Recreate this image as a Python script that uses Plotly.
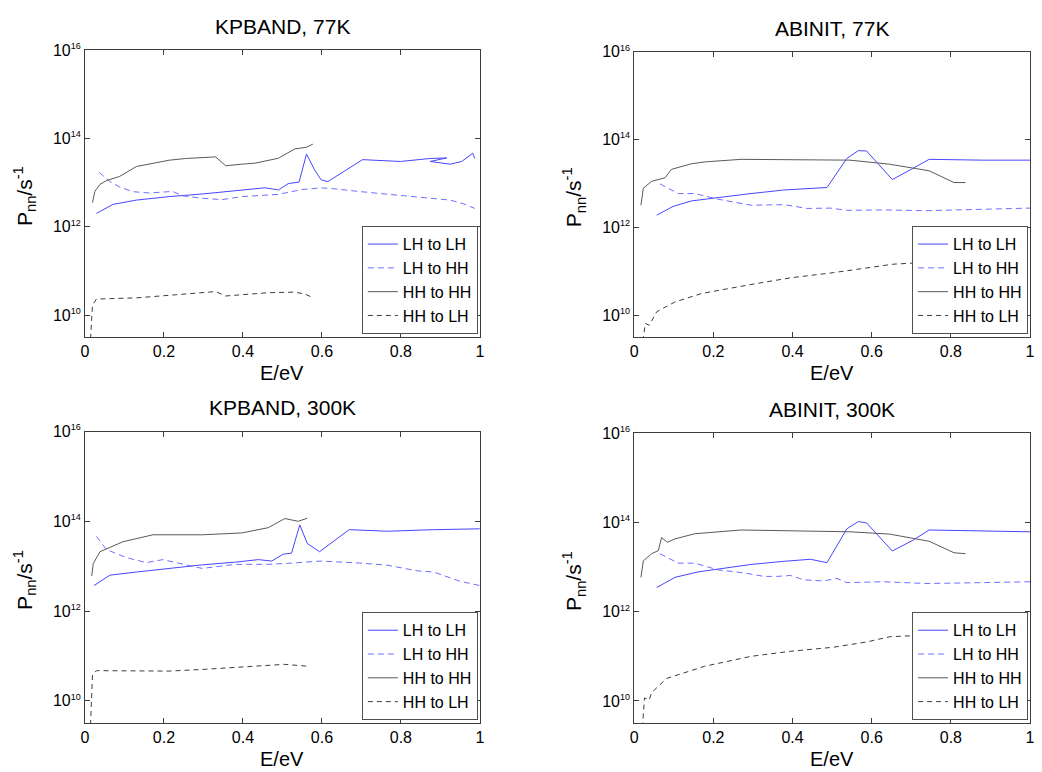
import plotly.graph_objects as go

# ---------------- data ----------------
# Panel 1: KPBAND, 77K
kp77_lhlh_x = [0.029,0.071,0.13,0.213,0.297,0.364,0.456,0.490,0.515,0.542,0.561,0.582,0.598,0.615,0.703,0.732,0.799,0.874,0.916,0.874,0.925,0.954,0.982,0.987]
kp77_lhlh_y = [2.0e12,3.2e12,4.0e12,4.8e12,5.5e12,6.2e12,7.6e12,6.8e12,9.5e12,1.02e13,4.4e13,1.9e13,1.15e13,1.05e13,3.3e13,3.2e13,3.0e13,3.5e13,3.6e13,3.0e13,2.6e13,3.0e13,4.6e13,3.5e13]
kp77_lhhh_x = [0.036,0.063,0.088,0.121,0.163,0.222,0.247,0.297,0.347,0.397,0.490,0.548,0.598,0.632,0.699,0.799,0.883,0.925,0.958,0.987]
kp77_lhhh_y = [1.7e13,1.05e13,7.9e12,6.2e12,5.8e12,6.3e12,5.0e12,4.4e12,4.1e12,4.8e12,5.4e12,6.9e12,7.6e12,7.2e12,6.2e12,5.1e12,4.5e12,4.0e12,3.3e12,2.6e12]
kp77_hhhh_x = [0.019,0.025,0.038,0.054,0.088,0.130,0.213,0.255,0.331,0.356,0.397,0.431,0.490,0.531,0.561,0.577]
kp77_hhhh_y = [3.5e12,6.3e12,9.1e12,1.1e13,1.38e13,2.3e13,3.2e13,3.5e13,3.8e13,2.4e13,2.6e13,2.75e13,3.55e13,5.75e13,6.3e13,7.4e13]
kp77_hhlh_x = [0.014,0.019,0.029,0.130,0.213,0.331,0.356,0.464,0.531,0.556,0.577]
kp77_hhlh_y = [2.9e9,1.7e10,2.3e10,2.45e10,2.8e10,3.4e10,2.7e10,3.2e10,3.3e10,3.0e10,2.5e10]

# Panel 2: ABINIT, 77K
ab77_lhlh_x = [0.057,0.098,0.144,0.211,0.295,0.378,0.487,0.537,0.566,0.587,0.652,0.704,0.745,0.879,1.0]
ab77_lhlh_y = [1.9e12,3.0e12,4.0e12,4.8e12,5.9e12,7.1e12,8.1e12,3.7e13,5.6e13,5.5e13,1.23e13,2.2e13,3.55e13,3.4e13,3.4e13]
ab77_lhhh_x = [0.065,0.111,0.153,0.211,0.295,0.345,0.378,0.437,0.495,0.537,0.629,0.737,0.821,1.0]
ab77_lhhh_y = [9.8e12,5.9e12,5.9e12,4.4e12,3.2e12,3.2e12,3.3e12,2.7e12,2.75e12,2.45e12,2.5e12,2.4e12,2.5e12,2.75e12]
ab77_hhhh_x = [0.017,0.023,0.044,0.078,0.094,0.144,0.178,0.270,0.545,0.645,0.745,0.808,0.837]
ab77_hhhh_y = [3.2e12,7.8e12,1.12e13,1.35e13,2.1e13,2.8e13,3.1e13,3.55e13,3.4e13,2.75e13,1.95e13,1.05e13,1.05e13]
ab77_hhlh_x = [0.019,0.028,0.038,0.057,0.103,0.169,0.295,0.395,0.503,0.587,0.654,0.737,0.84]
ab77_hhlh_y = [1.6e9,6.5e9,5.9e9,1.2e10,2.0e10,3.1e10,5.0e10,7.1e10,9.3e10,1.17e11,1.45e11,1.6e11,1.8e11]

# Panel 3: KPBAND, 300K
kp300_lhlh_x = [0.023,0.063,0.13,0.197,0.297,0.381,0.439,0.473,0.502,0.523,0.544,0.563,0.594,0.669,0.766,0.883,1.0]
kp300_lhlh_y = [3.7e12,6.3e12,7.4e12,8.7e12,1.07e13,1.23e13,1.4e13,1.3e13,1.85e13,1.95e13,8.3e13,3.2e13,2.1e13,6.5e13,6.0e13,6.5e13,6.8e13]
kp300_lhhh_x = [0.029,0.054,0.105,0.155,0.197,0.238,0.297,0.381,0.464,0.523,0.598,0.699,0.766,0.841,0.883,0.950,1.0]
kp300_lhhh_y = [4.6e13,2.35e13,1.55e13,1.2e13,1.4e13,1.15e13,8.9e12,1.1e13,1.1e13,1.17e13,1.3e13,1.17e13,1.05e13,7.9e12,7.4e12,4.6e12,3.7e12]
kp300_hhhh_x = [0.017,0.021,0.038,0.063,0.096,0.172,0.297,0.397,0.464,0.506,0.540,0.563]
kp300_hhhh_y = [6.0e12,1.15e13,2.1e13,2.6e13,3.5e13,5.0e13,5.0e13,5.5e13,7.2e13,1.15e14,1.0e14,1.17e14]
kp300_hhlh_x = [0.014,0.019,0.029,0.130,0.213,0.297,0.423,0.506,0.563]
kp300_hhlh_y = [2.9e9,3.8e10,4.7e10,4.6e10,4.6e10,5.0e10,5.9e10,6.5e10,5.9e10]

# Panel 4: ABINIT, 300K
ab300_lhlh_x = [0.057,0.103,0.161,0.211,0.295,0.378,0.445,0.487,0.537,0.566,0.587,0.652,0.704,0.745,0.829,0.954,1.0]
ab300_lhlh_y = [3.5e12,5.9e12,7.8e12,9.1e12,1.15e13,1.35e13,1.5e13,1.26e13,7.2e13,1.05e14,9.8e13,2.3e13,4.0e13,6.8e13,6.6e13,6.2e13,6.2e13]
ab300_lhhh_x = [0.065,0.111,0.153,0.211,0.278,0.328,0.361,0.395,0.428,0.478,0.512,0.537,0.629,0.737,0.821,1.0]
ab300_lhhh_y = [2.0e13,1.23e13,1.23e13,8.7e12,7.4e12,6.2e12,6.2e12,6.5e12,5.2e12,4.9e12,5.6e12,4.5e12,4.7e12,4.3e12,4.4e12,4.7e12]
ab300_hhhh_x = [0.017,0.023,0.044,0.061,0.069,0.084,0.103,0.153,0.270,0.545,0.645,0.745,0.808,0.837]
ab300_hhhh_y = [5.9e12,1.38e13,2.0e13,2.35e13,4.6e13,3.6e13,4.3e13,5.6e13,6.8e13,6.2e13,5.5e13,3.8e13,2.1e13,2.0e13]
ab300_hhlh_x = [0.019,0.026,0.038,0.044,0.082,0.128,0.178,0.295,0.395,0.503,0.587,0.645,0.737,0.812,0.84]
ab300_hhlh_y = [1.6e9,1.17e10,1.05e10,1.55e10,3.2e10,4.4e10,6.0e10,1.0e11,1.3e11,1.6e11,2.1e11,2.75e11,3.0e11,3.0e11,3.0e11]

panel_titles = ["KPBAND, 77K", "ABINIT, 77K", "KPBAND, 300K", "ABINIT, 300K"]
series_names = ["LH to LH", "LH to HH", "HH to HH", "HH to LH"]
x_tickvals = [0, 0.2, 0.4, 0.6, 0.8, 1]
x_ticktext = ["0", "0.2", "0.4", "0.6", "0.8", "1"]
y_tickvals = [1e10, 1e12, 1e14, 1e16]
y_exponents = ["10", "12", "14", "16"]
y_ticktext = ["10<sup><span style='font-size:9px'>%s</span></sup>" % e for e in y_exponents]

panels = [
    [(kp77_lhlh_x, kp77_lhlh_y), (kp77_lhhh_x, kp77_lhhh_y), (kp77_hhhh_x, kp77_hhhh_y), (kp77_hhlh_x, kp77_hhlh_y)],
    [(ab77_lhlh_x, ab77_lhlh_y), (ab77_lhhh_x, ab77_lhhh_y), (ab77_hhhh_x, ab77_hhhh_y), (ab77_hhlh_x, ab77_hhlh_y)],
    [(kp300_lhlh_x, kp300_lhlh_y), (kp300_lhhh_x, kp300_lhhh_y), (kp300_hhhh_x, kp300_hhhh_y), (kp300_hhlh_x, kp300_hhlh_y)],
    [(ab300_lhlh_x, ab300_lhlh_y), (ab300_lhhh_x, ab300_lhhh_y), (ab300_hhhh_x, ab300_hhhh_y), (ab300_hhlh_x, ab300_hhlh_y)],
]

# ---------------- styling ----------------
W, H = 1042, 772
FONT = "Liberation Sans, Arial, sans-serif"
line_styles = [
    dict(color="rgb(70,70,255)", width=1, dash="solid"),
    dict(color="rgb(110,110,255)", width=1, dash="6px,4px"),
    dict(color="rgb(90,90,90)", width=1, dash="solid"),
    dict(color="rgb(60,60,60)", width=1, dash="5px,4px"),
]

# pixel boxes of each axes: (left, right, top, bottom)
boxes = [(81.7, 480, 41.5, 332), (635.7, 1035, 43.3, 332),
         (81.7, 480, 427.5, 722.7), (635.7, 1035, 429.3, 722.7)]

fig = go.Figure()
layout = dict(width=W, height=H, margin=dict(l=0, r=0, t=0, b=0),
              paper_bgcolor="white", plot_bgcolor="white",
              font=dict(family=FONT, size=16, color="black"),
              showlegend=True, annotations=[])

for i, (box, series) in enumerate(zip(boxes, panels)):
    l, r, t, b = box
    xd = [l / W, r / W]
    yd = [1 - b / H, 1 - t / H]
    suffix = "" if i == 0 else str(i + 1)
    legname = "legend" + suffix
    for j, (xs, ys) in enumerate(series):
        fig.add_trace(go.Scatter(x=xs, y=ys, mode="lines", name=series_names[j],
                                 line=line_styles[j], xaxis="x" + suffix, yaxis="y" + suffix,
                                 legend=legname, showlegend=True, hoverinfo="x+y+name"))
    axcommon = dict(showline=True, linecolor="rgb(60,60,60)", linewidth=1, mirror="ticks",
                    ticks="inside", ticklen=5, tickcolor="rgb(60,60,60)", showgrid=False,
                    zeroline=False, tickfont=dict(family=FONT, size=16, color="black"))
    layout["xaxis" + suffix] = dict(domain=xd, range=[0, 1], tickvals=x_tickvals, ticktext=x_ticktext,
                                    anchor="y" + suffix, **axcommon)
    layout["yaxis" + suffix] = dict(domain=yd, type="log", range=[9.5, 16], tickvals=y_tickvals,
                                    ticktext=y_ticktext, anchor="x" + suffix, **axcommon)
    layout[legname] = dict(x=(r - 2) / W, y=1 - (b - 3) / H, xanchor="right", yanchor="bottom",
                           xref="paper", yref="paper",
                           bgcolor="white", bordercolor="rgb(80,80,80)", borderwidth=1,
                           font=dict(family=FONT, size=16, color="black"),
                           tracegroupgap=0, itemwidth=30)
    cx = (l + r) / 2
    # title
    layout["annotations"].append(dict(text=panel_titles[i], x=cx / W, y=1 - (t - 24) / H,
                                      xref="paper", yref="paper", xanchor="center", yanchor="middle",
                                      showarrow=False, font=dict(family=FONT, size=21)))
    # x label
    layout["annotations"].append(dict(text="E/eV", x=cx / W, y=1 - (b + 36) / H,
                                      xref="paper", yref="paper", xanchor="center", yanchor="middle",
                                      showarrow=False, font=dict(family=FONT, size=20)))
    # y label
    layout["annotations"].append(dict(text="P<sub>nn</sub>/s<sup>-1</sup>", x=(l - 61) / W,
                                      y=1 - ((t + b) / 2 + 3) / H, textangle=-90,
                                      xref="paper", yref="paper", xanchor="center", yanchor="middle",
                                      showarrow=False, font=dict(family=FONT, size=21)))

fig.update_layout(**layout)
fig.write_html("out.html")
